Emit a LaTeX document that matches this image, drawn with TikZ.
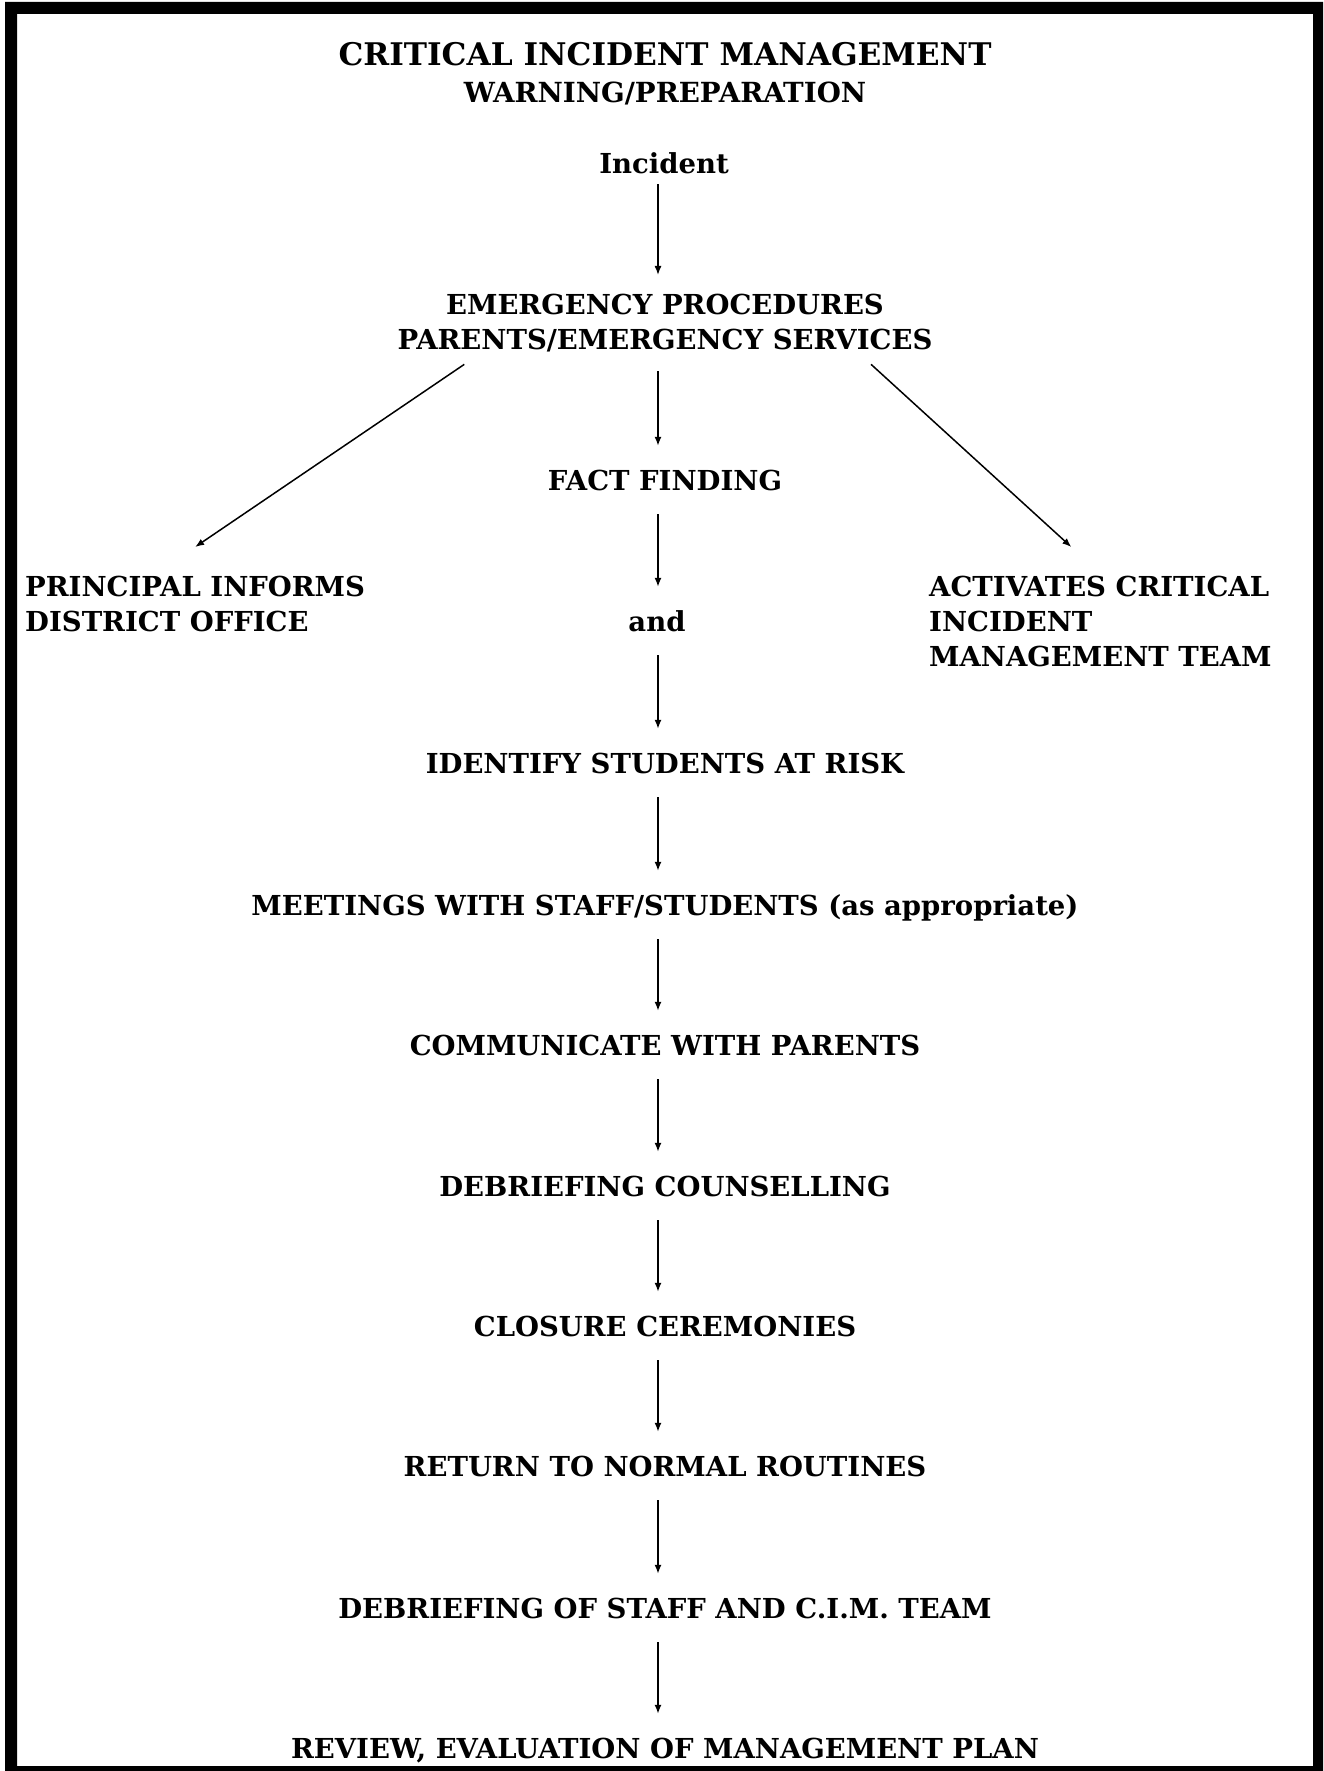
\documentclass[tikz,border=0pt]{standalone}
\usepackage{fontspec}
\setmainfont{DejaVu Serif}
\usetikzlibrary{arrows.meta,calc}
\begin{document}
\begin{tikzpicture}[x=1pt,y=-1pt,
  body/.style={font=\fontsize{27.5}{35}\selectfont\bfseries},
  lbl/.style={body, inner xsep=0pt, inner ysep=24pt, text height=20pt, text depth=0pt},
  ml/.style={body, inner xsep=0pt, inner ysep=19pt},
  side/.style={body, inner xsep=0pt, inner ysep=29pt, anchor=north west, align=left},
  ttl/.style={font=\fontsize{31.2}{38}\selectfont\bfseries, inner sep=0pt},
  sub/.style={font=\fontsize{27.7}{35}\selectfont\bfseries, inner sep=0pt},
  arr/.style={line width=1.5pt, -{Latex[length=9pt,width=7pt]}}]
\useasboundingbox (0,0) rectangle (1323,1771);
\fill[even odd rule] (5,2) rectangle (1323,1771) (17,14) rectangle (1313,1766);
\coordinate (ax) at (658,0);
\node[ttl] (title) at (665,54) {CRITICAL INCIDENT MANAGEMENT};
\node[sub] (warn) at (665,94) {WARNING/PREPARATION};
\node[lbl, inner ysep=10pt] (inc) at (664,164) {Incident};
\node[ml, anchor=north, align=center] (emerg) at (665,275) {EMERGENCY PROCEDURES\\PARENTS/EMERGENCY SERVICES};
\node[lbl] (fact) at (665,480) {FACT FINDING};
\node[side] (princ) at (25,547) {PRINCIPAL INFORMS\\DISTRICT OFFICE};
\node[lbl] (and) at (657,621) {and};
\node[side] (act) at (929,547) {ACTIVATES CRITICAL\\INCIDENT\\MANAGEMENT TEAM};
\node[lbl] (ident) at (665,763) {IDENTIFY STUDENTS AT RISK};
\node[lbl] (meet) at (665,905) {MEETINGS WITH STAFF/STUDENTS (as appropriate)};
\node[lbl] (comm) at (665,1045) {COMMUNICATE WITH PARENTS};
\node[lbl] (debc) at (665,1186) {DEBRIEFING COUNSELLING};
\node[lbl] (clos) at (665,1326) {CLOSURE CEREMONIES};
\node[lbl] (ret) at (665,1466) {RETURN TO NORMAL ROUTINES};
\node[lbl] (debs) at (665,1608) {DEBRIEFING OF STAFF AND C.I.M. TEAM};
\node[lbl] (rev) at (665,1748) {REVIEW, EVALUATION OF MANAGEMENT PLAN};
\draw[arr] (inc.south -| ax) -- (emerg.north -| ax);
\draw[arr] (emerg.south -| ax) -- (fact.north -| ax);
\draw[arr] (fact.south -| ax) -- (and.north -| ax);
\draw[arr] (and.south -| ax) -- (ident.north -| ax);
\draw[arr] (ident.south -| ax) -- (meet.north -| ax);
\draw[arr] (meet.south -| ax) -- (comm.north -| ax);
\draw[arr] (comm.south -| ax) -- (debc.north -| ax);
\draw[arr] (debc.south -| ax) -- (clos.north -| ax);
\draw[arr] (clos.south -| ax) -- (ret.north -| ax);
\draw[arr] (ret.south -| ax) -- (debs.north -| ax);
\draw[arr] (debs.south -| ax) -- (rev.north -| ax);
\draw[arr] ([yshift=7pt]$(emerg.south)!0.75!(emerg.south west)$) -- (princ.north);
\draw[arr] ([yshift=7pt]$(emerg.south)!0.77!(emerg.south east)$) -- ($(act.north west)!0.415!(act.north east)$);
\end{tikzpicture}
\end{document}
